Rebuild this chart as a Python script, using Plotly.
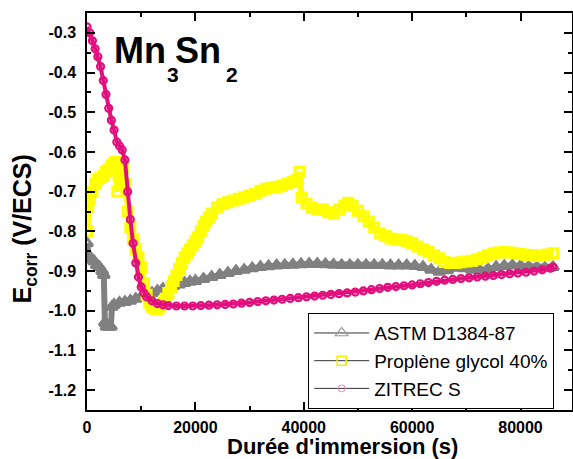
import plotly.graph_objects as go

# ---------------- data ----------------
astm_t = [0, 300, 800, 1300, 1800, 2300, 2800, 3100, 3300, 3600, 4000, 4400, 4600, 5000,
          6000, 7000, 8000, 9000, 10000, 11000, 12000, 13000, 14000, 15000, 16000, 17000,
          18000, 19000, 20000, 21500, 23000, 24500, 26000, 27500, 29000, 30500, 32000,
          33500, 35000, 36500, 38000, 39500, 41000, 42500, 44000, 45500, 47000, 48500,
          50000, 51500, 53000, 54500, 56000, 57500, 59000, 60500, 62000, 63500, 65000,
          66500, 68000, 69500, 71000, 72500, 74000, 75500, 77000, 78500, 80000, 81500,
          83000, 84500, 86000]
astm_v = [-0.83, -0.86, -0.87, -0.875, -0.885, -0.89, -0.90, -0.91, -1.03, -1.04, -1.04,
          -1.04, -0.99, -0.985, -0.98, -0.978, -0.975, -0.97, -0.965, -0.96, -0.955, -0.95,
          -0.945, -0.94, -0.937, -0.934, -0.93, -0.927, -0.925, -0.92, -0.915, -0.91,
          -0.905, -0.90, -0.897, -0.893, -0.89, -0.888, -0.886, -0.885, -0.884, -0.883,
          -0.882, -0.882, -0.883, -0.884, -0.885, -0.885, -0.885, -0.885, -0.885, -0.885,
          -0.886, -0.886, -0.886, -0.887, -0.89, -0.897, -0.902, -0.898, -0.892, -0.893,
          -0.897, -0.898, -0.895, -0.89, -0.887, -0.886, -0.887, -0.889, -0.891, -0.892,
          -0.89]

glycol_t = [0, 200, 500, 1000, 1500, 2000, 2500, 3000, 3500, 4000, 4500, 5000, 5300, 5600,
            5800, 6200, 6600, 7000, 7500, 8000, 8500, 9000, 9500, 10000, 10500, 11000,
            11500, 12000, 12500, 13000, 13500, 14000, 14500, 15000, 15500, 16000, 16500,
            17000, 17500, 18000, 18500, 19000, 19500, 20000, 20500, 21000, 21500, 22000,
            22500, 23000, 24000, 25000, 26000, 27000, 28000, 29000, 30000, 31000, 32000,
            33000, 34000, 35000, 36000, 37000, 38000, 38800, 39200, 39600, 40500, 41500,
            42500, 43500, 44500, 45500, 46500, 47500, 48200, 49000, 50000, 51000, 52000,
            53000, 54000, 55000, 56000, 57000, 58000, 59000, 60000, 61000, 62000, 63000,
            64000, 65000, 66000, 67000, 68000, 69000, 70000, 71000, 72000, 73000, 74000,
            75000, 76000, 77000, 78000, 79000, 80000, 81000, 82000, 83000, 84000, 85000,
            86000]
glycol_v = [-0.80, -0.74, -0.72, -0.70, -0.68, -0.67, -0.665, -0.66, -0.65, -0.645, -0.635,
            -0.63, -0.625, -0.70, -0.66, -0.645, -0.64, -0.68, -0.75, -0.79, -0.82, -0.845,
            -0.865, -0.89, -0.93, -0.96, -0.98, -0.99, -0.995, -0.997, -0.99, -0.98, -0.97,
            -0.955, -0.94, -0.925, -0.91, -0.895, -0.88, -0.865, -0.855, -0.845, -0.835,
            -0.825, -0.815, -0.80, -0.785, -0.775, -0.765, -0.755, -0.74, -0.732, -0.727,
            -0.722, -0.718, -0.714, -0.71, -0.705, -0.698, -0.693, -0.69, -0.688, -0.685,
            -0.68, -0.675, -0.67, -0.65, -0.715, -0.73, -0.74, -0.745, -0.745, -0.752,
            -0.755, -0.745, -0.735, -0.728, -0.735, -0.748, -0.762, -0.775, -0.79, -0.805,
            -0.812, -0.818, -0.82, -0.822, -0.825, -0.83, -0.838, -0.845, -0.852, -0.86,
            -0.868, -0.877, -0.88, -0.88, -0.878, -0.876, -0.874, -0.871, -0.866, -0.86,
            -0.856, -0.853, -0.852, -0.853, -0.855, -0.857, -0.859, -0.86, -0.862, -0.86,
            -0.858, -0.855]

zitrec_t = [0, 500, 1000, 1500, 2000, 2500, 3000, 3500, 4000, 4500, 5000, 5500, 6000, 6500,
            7000, 7500, 8000, 8500, 9000, 9500, 10000, 10500, 11000, 12000, 13000, 14000,
            15000, 16500, 18000, 19500, 21000, 22500, 24000, 25500, 27000, 28500, 30000,
            31500, 33000, 34500, 36000, 37500, 39000, 40500, 42000, 43500, 45000, 46500,
            48000, 49500, 51000, 52500, 54000, 55500, 57000, 58500, 60000, 61500, 63000,
            64500, 66000, 67500, 69000, 70500, 72000, 73500, 75000, 76500, 78000, 79500,
            81000, 82500, 84000, 85500, 86000]
zitrec_v = [-0.285, -0.30, -0.32, -0.34, -0.36, -0.385, -0.42, -0.455, -0.49, -0.52, -0.545,
            -0.575, -0.585, -0.595, -0.62, -0.70, -0.77, -0.83, -0.88, -0.915, -0.94, -0.955,
            -0.965, -0.975, -0.982, -0.985, -0.987, -0.988, -0.988, -0.988, -0.987, -0.986,
            -0.985, -0.984, -0.983, -0.981, -0.979, -0.977, -0.975, -0.973, -0.971, -0.969,
            -0.967, -0.965, -0.963, -0.961, -0.959, -0.957, -0.955, -0.953, -0.95, -0.947,
            -0.944, -0.941, -0.939, -0.937, -0.935, -0.932, -0.929, -0.926, -0.923, -0.921,
            -0.919, -0.917, -0.915, -0.913, -0.911, -0.909, -0.907, -0.905, -0.903, -0.90,
            -0.897, -0.893, -0.89]

series_names = ["ASTM D1384-87", "Proplène glycol 40%", "ZITREC S"]
x_ticks = [0, 20000, 40000, 60000, 80000]
y_ticks = [-1.2, -1.1, -1.0, -0.9, -0.8, -0.7, -0.6, -0.5, -0.4, -0.3]
y_tick_labels = ["-1.2", "-1.1", "-1.0", "-0.9", "-0.8", "-0.7", "-0.6", "-0.5", "-0.4", "-0.3"]

GRAY = "#808080"
YELLOW = "#ffff00"
MAGENTA = "#e2107e"
FONT = "Liberation Sans, Arial, sans-serif"

fig = go.Figure()

# data traces
fig.add_trace(go.Scatter(
    x=astm_t, y=astm_v, mode="lines+markers", showlegend=False,
    line=dict(color=GRAY, width=6),
    marker=dict(symbol="triangle-up-open", size=10, color=GRAY, line=dict(width=3, color=GRAY))))
fig.add_trace(go.Scatter(
    x=glycol_t, y=glycol_v, mode="lines+markers", showlegend=False,
    line=dict(color=YELLOW, width=6),
    marker=dict(symbol="square-open", size=9, color=YELLOW, line=dict(width=3, color=YELLOW))))
fig.add_trace(go.Scatter(
    x=zitrec_t, y=zitrec_v, mode="lines+markers", showlegend=False,
    line=dict(color=MAGENTA, width=4),
    marker=dict(symbol="circle-open", size=7, color=MAGENTA, line=dict(width=2.2, color=MAGENTA))))

# legend-only entries (dark line + coloured open symbol, as in the original)
leg_markers = [
    dict(symbol="triangle-up-open", size=11, color="#9a9a9a", line=dict(width=1.2)),
    dict(symbol="square-open", size=9, color="#f0f000", line=dict(width=1.5)),
    dict(symbol="circle-open", size=7, color="#e88ab8", line=dict(width=1)),
]
for name, mk in zip(series_names, leg_markers):
    fig.add_trace(go.Scatter(
        x=[None], y=[None], mode="lines+markers", name=name,
        line=dict(color="#333333", width=1), marker=mk))

axis_common = dict(
    showline=True, linecolor="black", linewidth=1.5, mirror="ticks",
    ticks="inside", ticklen=8, tickwidth=1.5, tickcolor="black",
    showgrid=False, zeroline=False, automargin=False,
    tickfont=dict(family=FONT, size=16, color="black", weight="bold"),
)

fig.update_xaxes(
    **axis_common, range=[0, 89500], tickvals=x_ticks,
    ticktext=[str(v) for v in x_ticks], ticklabelstandoff=2,
    minor=dict(ticks="inside", ticklen=4, tickwidth=1.5, tickcolor="black", dtick=10000),
)
fig.update_yaxes(
    **axis_common, range=[-1.25, -0.25], tickvals=y_ticks, ticktext=y_tick_labels,
    ticklabelstandoff=6,
    minor=dict(ticks="inside", ticklen=4, tickwidth=1.5, tickcolor="black", dtick=0.05),
)

# axis titles
fig.add_annotation(
    text="Durée d'immersion (s)", xref="paper", yref="paper",
    x=0.526, y=-0.091, xanchor="center", yanchor="middle", showarrow=False,
    font=dict(family=FONT, size=22, color="black", weight="bold"))
fig.add_annotation(
    text="E<sub>corr</sub> (V/ECS)", xref="paper", yref="paper", textangle=-90,
    x=-0.13, y=0.457, xanchor="center", yanchor="middle", showarrow=False,
    font=dict(family=FONT, size=25, color="black", weight="bold"))

# compound label Mn3Sn2 (large subscripts offset as in the original)
title_parts = [("Mn", 36, 0.0536, 0.9068), ("3", 21, 0.1619, 0.845),
               ("Sn", 36, 0.1800, 0.9068), ("2", 21, 0.2850, 0.845)]
for txt, size, xp, yp in title_parts:
    fig.add_annotation(
        text=txt, xref="paper", yref="paper", x=xp, y=yp,
        xanchor="left", yanchor="middle", showarrow=False, borderpad=0,
        font=dict(family=FONT, size=size, color="black", weight="bold"))

fig.update_layout(
    width=573, height=459,
    margin=dict(l=87, r=1, t=13, b=49),
    paper_bgcolor="white", plot_bgcolor="white",
    legend=dict(x=0.456, y=0.244, xanchor="left", yanchor="top",
                bordercolor="black", borderwidth=1, bgcolor="white",
                font=dict(family=FONT, size=19, color="black"),
                itemwidth=55, tracegroupgap=0),
)

fig.write_html("out.html", config={"displayModeBar": False},
               post_script="document.body.style.margin='0';document.body.style.overflow='hidden';")
